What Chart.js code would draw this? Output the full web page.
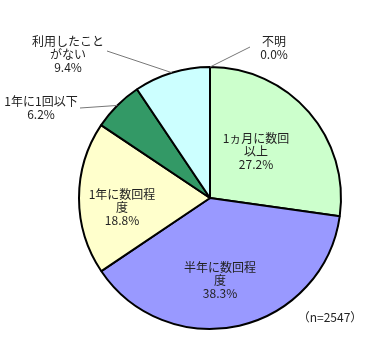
<!DOCTYPE html>
<html>
<head>
<meta charset="utf-8">
<script src="https://cdn.jsdelivr.net/npm/chart.js@4/dist/chart.umd.min.js"></script>
<style>
    html, body { margin: 0; padding: 0; background: #fff; }
    #wrap { width: 384px; height: 359px; }
</style>
</head>
<body>
<div id="wrap"><canvas id="chart-usage"></canvas></div>
<script>
// data
const categories = [
    ['1ヵ月に数回', '以上'],
    ['半年に数回程', '度'],
    ['1年に数回程', '度'],
    ['1年に1回以下'],
    ['利用したこと', 'がない'],
    ['不明'],
]
const values = [27.2, 38.3, 18.8, 6.2, 9.4, 0.0]
const sampleNote = '（n=2547）'

const colors = ['#ccffcc', '#9999ff', '#ffffcc', '#339966', '#ccffff', '#ffffff']

// label block centers, px from pie center (at radius 131); leader = line start
const labelPlace = [
    { dx: 46, dy: -47 },
    { dx: 10, dy: 82 },
    { dx: -88, dy: 9 },
    { dx: -169, dy: -90, leader: [-130, -90] },
    { dx: -142, dy: -144, leader: [-103, -147] },
    { dx: 64, dy: -150, leader: [40, -151] },
]

const pieLabels = {
    id: 'pieLabels',
    afterDraw(chart) {
        const ctx = chart.ctx
        const arcs = chart.getDatasetMeta(0).data
        const cx = arcs[0].x
        const cy = arcs[0].y
        const k = arcs[0].outerRadius / 131
        ctx.save()
        ctx.font = '12px "Noto Sans CJK JP", sans-serif'
        ctx.fillStyle = '#222'
        ctx.textAlign = 'center'
        ctx.textBaseline = 'middle'
        arcs.forEach((arc, i) => {
            const p = labelPlace[i]
            const lines = categories[i].concat([values[i].toFixed(1) + '%'])
            const x = cx + p.dx * k
            const y = cy + p.dy * k
            const lh = 13
            lines.forEach((t, j) => {
                ctx.fillText(t, x, y + (j - (lines.length - 1) / 2) * lh)
            })
            if (p.leader) {
                const mid = (arc.startAngle + arc.endAngle) / 2
                ctx.beginPath()
                ctx.strokeStyle = '#777'
                ctx.lineWidth = 1
                ctx.moveTo(cx + p.leader[0] * k, cy + p.leader[1] * k)
                ctx.lineTo(cx + Math.cos(mid) * arc.outerRadius, cy + Math.sin(mid) * arc.outerRadius)
                ctx.stroke()
            }
        })
        ctx.fillText(sampleNote, cx + 120 * k, cy + 119 * k)
        ctx.restore()
    },
}

const chartUsage = new Chart(document.getElementById('chart-usage'), {
    type: 'pie',
    data: {
        labels: categories,
        datasets: [
            {
                data: values,
                backgroundColor: colors,
                borderColor: '#000',
                borderWidth: 2,
            },
        ],
    },
    options: {
        responsive: true,
        maintainAspectRatio: false,
        animation: false,
        layout: {
            padding: { left: 78, right: 42, top: 66, bottom: 29 },
        },
        plugins: {
            legend: { display: false },
            tooltip: { enabled: false },
        },
    },
    plugins: [pieLabels],
})
</script>
</body>
</html>
